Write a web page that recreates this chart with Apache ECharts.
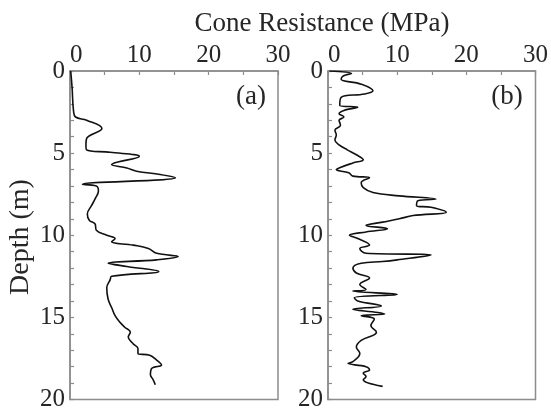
<!DOCTYPE html>
<html>
<head>
<meta charset="utf-8">
<script src="https://cdn.jsdelivr.net/npm/echarts@6/dist/echarts.min.js"></script>
<style>html,body{margin:0;padding:0;background:#fff;}#c{width:551px;height:412px;}</style>
</head>
<body>
<div id="c"></div>
<script>
// Panel (a): cone resistance (MPa) vs depth (m)
var depthA = [0, 1.0, 2.4, 2.8, 3.0, 3.5, 4.1, 4.5, 4.8, 4.95, 5.2, 5.7, 5.9, 6.1, 6.3, 6.5, 6.9, 7.0, 7.3, 7.8, 8.2, 8.7, 9.1, 9.3, 9.7, 10.0, 10.2, 10.4, 10.6, 10.8, 11.1, 11.3, 11.5, 11.7, 11.9, 12.2, 12.5, 12.7, 13.2, 13.9, 14.4, 14.9, 15.3, 15.6, 15.9, 16.2, 16.6, 16.9, 17.2, 17.3, 17.6, 17.9, 18.1, 18.5, 18.8, 19.1];
var qcA    = [0.1, 0.3, 0.5, 0.8, 2.4, 4.6, 2.4, 2.3, 2.4, 5.8, 10.0, 6.0, 8.2, 9.6, 13.0, 15.2, 1.8, 3.8, 4.1, 3.6, 3.1, 2.5, 2.8, 3.6, 3.8, 5.3, 6.5, 6.0, 9.1, 11.3, 12.5, 15.6, 12.5, 5.5, 8.2, 12.8, 6.0, 5.8, 5.3, 5.5, 6.0, 6.5, 7.2, 7.9, 8.7, 8.4, 9.1, 9.8, 9.8, 11.5, 12.5, 13.2, 11.8, 11.6, 12.0, 12.3];
// Panel (b)
var depthB = [0, 0.15, 0.3, 0.5, 0.8, 1.2, 1.4, 1.6, 2.1, 2.2, 2.4, 2.6, 2.8, 3.0, 3.3, 3.6, 3.9, 4.2, 4.5, 4.8, 5.1, 5.4, 5.6, 5.9, 6.0, 6.2, 6.4, 6.5, 6.8, 7.1, 7.4, 7.6, 7.8, 7.9, 8.2, 8.3, 8.6, 8.8, 9.0, 9.2, 9.4, 9.6, 9.8, 10.0, 10.2, 10.6, 10.8, 11.1, 11.2, 11.5, 11.6, 11.7, 12.0, 12.3, 12.6, 13.0, 13.3, 13.4, 13.6, 13.8, 14.0, 14.3, 14.5, 14.7, 14.8, 14.9, 15.1, 15.5, 15.9, 16.4, 16.8, 17.2, 17.7, 17.8, 18.0, 18.2, 18.4, 18.6, 18.8, 19.2];
var qcB    = [0.2, 3.4, 2.2, 1.9, 4.8, 6.5, 5.3, 1.9, 1.7, 4.3, 2.3, 1.6, 2.3, 1.6, 1.8, 1.0, 1.2, 1.0, 1.6, 2.8, 4.1, 5.1, 3.6, 1.6, 1.2, 3.0, 3.6, 6.0, 4.8, 5.1, 6.5, 10.3, 15.6, 13.0, 12.8, 14.9, 17.1, 12.3, 10.3, 7.9, 5.5, 8.6, 5.5, 3.1, 4.3, 6.0, 4.6, 5.5, 14.9, 10.0, 7.9, 4.8, 3.6, 4.1, 6.0, 4.6, 5.5, 3.6, 10.0, 3.8, 4.3, 7.7, 3.6, 7.2, 8.2, 4.8, 6.7, 6.2, 7.0, 4.8, 4.1, 4.6, 3.6, 2.9, 5.5, 6.0, 5.1, 5.5, 5.1, 7.9];
var xTicks = [0, 10, 20, 30];
var yTicks = [0, 5, 10, 15, 20];
var titleText = 'Cone Resistance (MPa)';
var yName = 'Depth (m)';
var panelLabels = ['(a)', '(b)'];

function pairs(x, y) { return x.map(function (v, i) { return [v, y[i]]; }); }

var FONT = 'Liberation Serif';
var AX = '#8c8c8c';
var TXT = '#262626';

function xAxis(gi) {
  return {
    type: 'value', gridIndex: gi, position: 'top',
    min: xTicks[0], max: xTicks[xTicks.length - 1], interval: 10,
    axisLine: { show: true, lineStyle: { color: AX, width: 1.5 } },
    axisTick: { show: true, inside: true, length: 4, lineStyle: { color: AX, width: 1.2 } },
    minorTick: { show: true, splitNumber: 2, length: 4, lineStyle: { color: AX, width: 1.2 } },
    splitLine: { show: false },
    axisLabel: { fontFamily: FONT, fontSize: 25, color: TXT, margin: 3, alignMinLabel: 'left' }
  };
}
function yAxis(gi) {
  return {
    type: 'value', gridIndex: gi, inverse: true,
    min: yTicks[0], max: yTicks[yTicks.length - 1], interval: 5,
    axisLine: { show: true, lineStyle: { color: AX, width: 1.5 } },
    axisTick: { show: true, inside: true, length: 4, lineStyle: { color: AX, width: 1.2 } },
    minorTick: { show: true, splitNumber: 5, length: 4, lineStyle: { color: AX, width: 1.2 } },
    splitLine: { show: false },
    axisLabel: { fontFamily: FONT, fontSize: 25, color: TXT, margin: 5 }
  };
}

var chart = echarts.init(document.getElementById('c'), null, { renderer: 'canvas' });
chart.setOption({
  animation: false,
  backgroundColor: '#fff',
  title: {
    text: titleText, left: 317, top: 5, textAlign: 'center',
    textStyle: { fontFamily: FONT, fontSize: 27, fontWeight: 'normal', color: TXT }
  },
  grid: [
    { left: 70, top: 71, width: 208, height: 329, show: true, borderColor: AX, borderWidth: 1.5, backgroundColor: 'transparent' },
    { left: 328, top: 71, width: 208, height: 329, show: true, borderColor: AX, borderWidth: 1.5, backgroundColor: 'transparent' }
  ],
  xAxis: [xAxis(0), xAxis(1)],
  yAxis: [yAxis(0), yAxis(1)],
  graphic: [
    { type: 'text', x: 21, y: 237, rotation: Math.PI / 2, style: { text: yName, font: '28px ' + FONT, fill: TXT, textAlign: 'center', textVerticalAlign: 'middle' } },
    { type: 'text', x: 251, y: 97, style: { text: panelLabels[0], font: '27px ' + FONT, fill: TXT, textAlign: 'center', textVerticalAlign: 'middle' } },
    { type: 'text', x: 507, y: 97, style: { text: panelLabels[1], font: '27px ' + FONT, fill: TXT, textAlign: 'center', textVerticalAlign: 'middle' } }
  ],
  series: [
    { type: 'line', xAxisIndex: 0, yAxisIndex: 0, data: pairs(qcA, depthA), smooth: 0.4, showSymbol: false, lineStyle: { color: '#111', width: 1.6 } },
    { type: 'line', xAxisIndex: 1, yAxisIndex: 1, data: pairs(qcB, depthB), smooth: 0.4, showSymbol: false, lineStyle: { color: '#111', width: 1.6 } }
  ]
});
</script>
</body>
</html>
